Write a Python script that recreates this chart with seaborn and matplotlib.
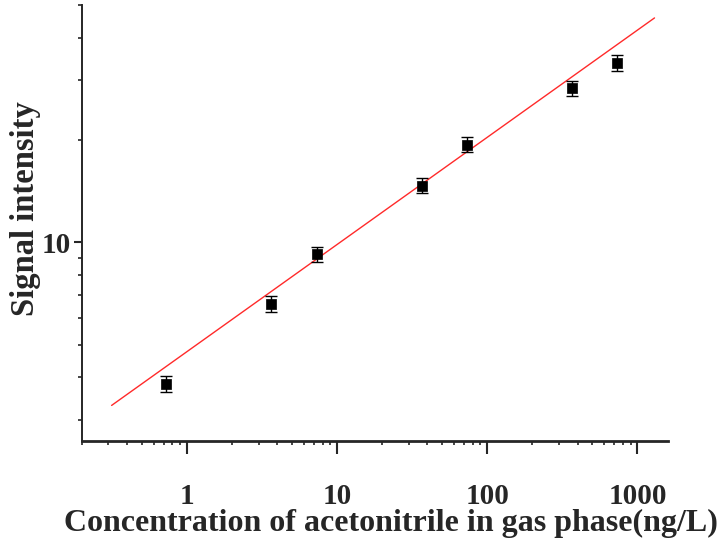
import matplotlib
matplotlib.use('Agg')
import matplotlib.pyplot as plt
import matplotlib.ticker as mticker
import seaborn as sns
import pandas as pd

# ── DATA ──────────────────────────────────────────────────────
conc = [0.73, 3.65, 7.3, 36.5, 73, 365, 730]          # ng/L
signal = [3.83, 6.59, 9.24, 14.7, 19.4, 28.4, 33.8]
signal_err = [0.20, 0.34, 0.48, 0.76, 1.0, 1.48, 1.76]

fit_x = [0.315, 1300]
fit_y = [3.31, 45.8]

x_ticks = [1, 10, 100, 1000]
y_ticks = [10]

df = pd.DataFrame({'conc': conc, 'signal': signal, 'err': signal_err})
fit = pd.DataFrame({'x': fit_x, 'y': fit_y})

# ── STYLE ─────────────────────────────────────────────────────
sns.set_theme(style="ticks")
plt.rcParams['font.family'] = ['Liberation Serif', 'DejaVu Serif']
plt.rcParams['font.weight'] = 'bold'

fig = plt.figure(figsize=(7.23, 5.42), dpi=100)
ax = fig.add_axes([0.1134, 0.1863, 0.8106, 0.8045])

# ── PLOT ──────────────────────────────────────────────────────
sns.lineplot(data=fit, x='x', y='y', color='#ff2a2a', linewidth=1.0, ax=ax)
ax.errorbar(df['conc'], df['signal'], yerr=df['err'], fmt='none',
            ecolor='black', elinewidth=1.0, capsize=4, capthick=1.0, zorder=3)
sns.scatterplot(data=df, x='conc', y='signal', marker='s', s=60,
                color='black', edgecolor='black', linewidth=0.5, ax=ax, zorder=4)

ax.set_xscale('log')
ax.set_yscale('log')
ax.set_xlim(0.2, 1600)
ax.set_ylim(2.6, 50)

ax.xaxis.set_major_locator(mticker.FixedLocator(x_ticks))
ax.xaxis.set_major_formatter(mticker.FixedFormatter([str(t) for t in x_ticks]))
ax.xaxis.set_minor_locator(mticker.LogLocator(base=10, subs=range(2, 10), numticks=20))
ax.xaxis.set_minor_formatter(mticker.NullFormatter())
ax.yaxis.set_major_locator(mticker.FixedLocator(y_ticks))
ax.yaxis.set_major_formatter(mticker.FixedFormatter([str(t) for t in y_ticks]))
ax.yaxis.set_minor_locator(mticker.LogLocator(base=10, subs=range(2, 10), numticks=20))
ax.yaxis.set_minor_formatter(mticker.NullFormatter())

ax.tick_params(axis='x', which='major', length=9, width=1.5, pad=21, labelsize=21)
ax.tick_params(axis='x', which='minor', length=3, width=1.2)
ax.tick_params(axis='y', which='major', length=6, width=1.5, pad=2, labelsize=21)
ax.tick_params(axis='y', which='minor', length=3, width=1.2)

sns.despine(ax=ax)
ax.spines['bottom'].set_linewidth(2)
ax.spines['left'].set_linewidth(1.4)

ax.set_xlabel('Concentration of acetonitrile in gas phase(ng/L)',
              fontsize=23, fontweight='bold', va='center')
ax.set_ylabel('Signal intensity', fontsize=23.5, fontweight='bold', va='center')
ax.xaxis.set_label_coords(0.527, -0.19)
ax.yaxis.set_label_coords(-0.097, 0.532)

plt.savefig('out.png', dpi=100)
plt.close()
